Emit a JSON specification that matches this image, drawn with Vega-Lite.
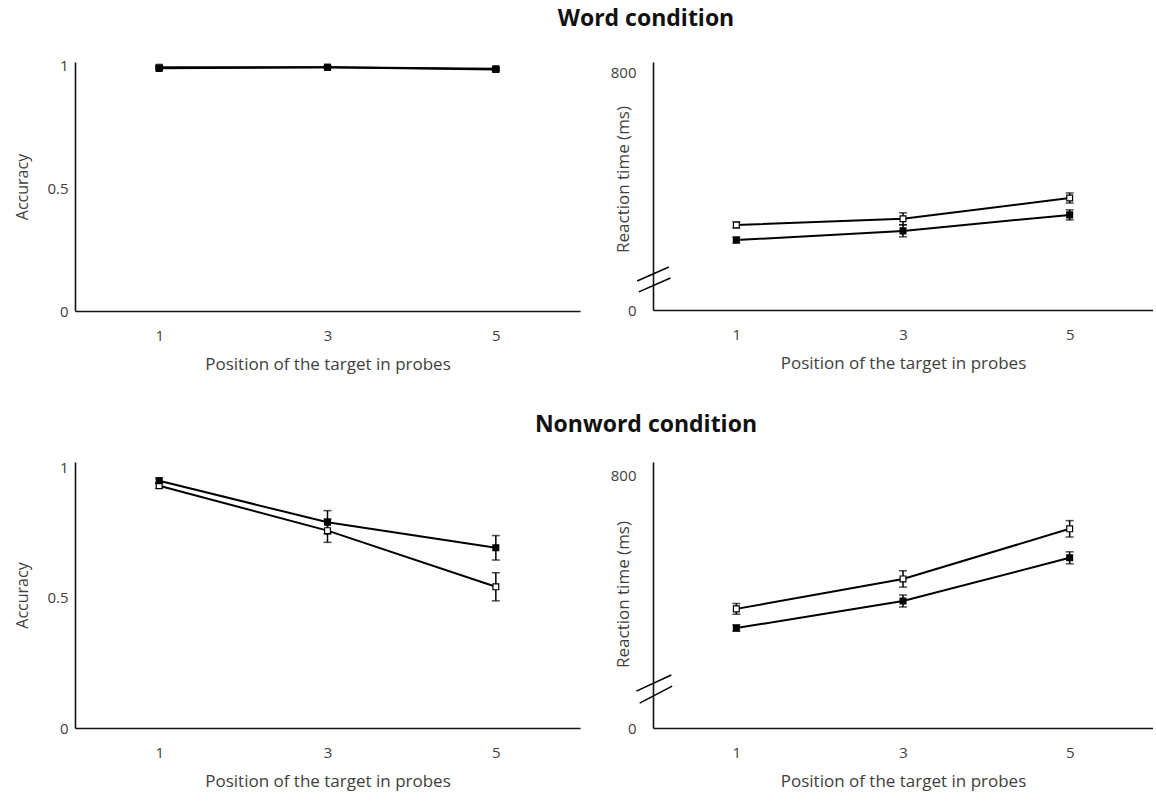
{
  "$schema": "https://vega.github.io/schema/vega-lite/v6.json",
  "padding": {"left": 14, "top": 7, "right": 0, "bottom": 8},
  "background": "white",
  "datasets": {
    "main": [
      {"panel": "word_acc", "pos": 1, "group": "A", "mean": 0.995, "lo": 0.99, "hi": 1.0},
      {"panel": "word_acc", "pos": 3, "group": "A", "mean": 0.995, "lo": 0.991, "hi": 0.999},
      {"panel": "word_acc", "pos": 5, "group": "A", "mean": 0.985, "lo": 0.98, "hi": 0.99},
      {"panel": "word_acc", "pos": 1, "group": "B", "mean": 0.99, "lo": 0.985, "hi": 0.995},
      {"panel": "word_acc", "pos": 3, "group": "B", "mean": 0.995, "lo": 0.991, "hi": 0.999},
      {"panel": "word_acc", "pos": 5, "group": "B", "mean": 0.988, "lo": 0.983, "hi": 0.993},
      {"panel": "word_rt", "pos": 1, "group": "A", "mean": 287, "lo": 277, "hi": 297},
      {"panel": "word_rt", "pos": 3, "group": "A", "mean": 308, "lo": 288, "hi": 328},
      {"panel": "word_rt", "pos": 5, "group": "A", "mean": 378, "lo": 361, "hi": 395},
      {"panel": "word_rt", "pos": 1, "group": "B", "mean": 236, "lo": 226, "hi": 246},
      {"panel": "word_rt", "pos": 3, "group": "B", "mean": 267, "lo": 247, "hi": 287},
      {"panel": "word_rt", "pos": 5, "group": "B", "mean": 321, "lo": 304, "hi": 338},
      {"panel": "nonword_acc", "pos": 1, "group": "A", "mean": 0.932, "lo": 0.922, "hi": 0.942},
      {"panel": "nonword_acc", "pos": 3, "group": "A", "mean": 0.759, "lo": 0.714, "hi": 0.804},
      {"panel": "nonword_acc", "pos": 5, "group": "A", "mean": 0.543, "lo": 0.489, "hi": 0.597},
      {"panel": "nonword_acc", "pos": 1, "group": "B", "mean": 0.951, "lo": 0.941, "hi": 0.961},
      {"panel": "nonword_acc", "pos": 3, "group": "B", "mean": 0.791, "lo": 0.746, "hi": 0.836},
      {"panel": "nonword_acc", "pos": 5, "group": "B", "mean": 0.693, "lo": 0.646, "hi": 0.74},
      {"panel": "nonword_rt", "pos": 1, "group": "A", "mean": 378, "lo": 361, "hi": 395},
      {"panel": "nonword_rt", "pos": 3, "group": "A", "mean": 473, "lo": 447, "hi": 499},
      {"panel": "nonword_rt", "pos": 5, "group": "A", "mean": 632, "lo": 606, "hi": 658},
      {"panel": "nonword_rt", "pos": 1, "group": "B", "mean": 317, "lo": 307, "hi": 327},
      {"panel": "nonword_rt", "pos": 3, "group": "B", "mean": 403, "lo": 384, "hi": 422},
      {"panel": "nonword_rt", "pos": 5, "group": "B", "mean": 540, "lo": 521, "hi": 559}
    ],
    "breaks": [
      {"panel": "word_rt", "bx": -0.19, "by": 98, "bx2": 0.19, "by2": 145},
      {"panel": "word_rt", "bx": -0.17, "by": 61, "bx2": 0.21, "by2": 108},
      {"panel": "nonword_rt", "bx": -0.2, "by": 117, "bx2": 0.22, "by2": 168},
      {"panel": "nonword_rt", "bx": -0.16, "by": 79, "bx2": 0.23, "by2": 133}
    ]
  },
  "vconcat": [
    {
      "title": {"text": "Word condition", "dx": 62},
      "spacing": 30,
      "hconcat": [
        {
          "width": 505, "height": 249,
          "data": {"name": "main"},
          "transform": [{"filter": "datum.panel === 'word_acc'"}],
          "encoding": {
            "x": {"field": "pos", "type": "quantitative", "scale": {"domain": [0, 6], "nice": false, "zero": false},
                  "axis": {"values": [1, 3, 5], "title": "Position of the target in probes"}}
          },
          "layer": [
            {"mark": {"type": "line", "color": "black", "strokeWidth": 2},
             "encoding": {"y": {"field": "mean", "type": "quantitative", "scale": {"domain": [0, 1.016], "nice": false},
                                "title": "Accuracy", "axis": {"values": [0, 0.5, 1], "format": "~g", "labelPadding": 7, "titlePadding": 16, "titleFontSize": 16}},
                          "detail": {"field": "group"}}},
            {"mark": {"type": "rule", "color": "black", "strokeWidth": 1.5},
             "encoding": {"y": {"field": "lo", "type": "quantitative", "title": "Accuracy"}, "y2": {"field": "hi"}}},
            {"mark": {"type": "tick", "orient": "horizontal", "color": "black", "size": 8, "thickness": 1.5},
             "encoding": {"y": {"field": "lo", "type": "quantitative", "title": "Accuracy"}}},
            {"mark": {"type": "tick", "orient": "horizontal", "color": "black", "size": 8, "thickness": 1.5},
             "encoding": {"y": {"field": "hi", "type": "quantitative", "title": "Accuracy"}}},
            {"mark": {"type": "point", "shape": "square", "filled": true, "size": 34, "stroke": "black", "strokeWidth": 1.2, "opacity": 1},
             "encoding": {"y": {"field": "mean", "type": "quantitative", "title": "Accuracy"},
                          "fill": {"field": "group", "type": "nominal", "scale": {"domain": ["A", "B"], "range": ["white", "black"]}, "legend": null}}}
          ]
        },
        {
          "width": 500, "height": 248,
          "data": {"name": "main"},
          "transform": [{"filter": "datum.panel === 'word_rt'"}],
          "encoding": {
            "x": {"field": "pos", "type": "quantitative", "scale": {"domain": [0, 6], "nice": false, "zero": false},
                  "axis": {"values": [1, 3, 5], "title": "Position of the target in probes"}}
          },
          "layer": [
            {"mark": {"type": "line", "color": "black", "strokeWidth": 2},
             "encoding": {"y": {"field": "mean", "type": "quantitative", "scale": {"domain": [0, 837], "nice": false},
                                "title": "Reaction time (ms)", "axis": {"values": [0, 800], "format": "d", "labelPadding": 17, "titleX": -21, "titleY": 117, "titleAngle": 270, "titleAlign": "center", "titleBaseline": "bottom"}},
                          "detail": {"field": "group"}}},
            {"data": {"name": "breaks"},
             "transform": [{"filter": "datum.panel === 'word_rt'"}],
             "mark": {"type": "rule", "color": "black", "strokeWidth": 1.5},
             "encoding": {"x": {"field": "bx", "type": "quantitative"}, "x2": {"field": "bx2"},
                          "y": {"field": "by", "type": "quantitative", "title": "Reaction time (ms)"}, "y2": {"field": "by2"}}},
            {"mark": {"type": "rule", "color": "black", "strokeWidth": 1.5},
             "encoding": {"y": {"field": "lo", "type": "quantitative", "title": "Reaction time (ms)"}, "y2": {"field": "hi"}}},
            {"mark": {"type": "tick", "orient": "horizontal", "color": "black", "size": 8, "thickness": 1.5},
             "encoding": {"y": {"field": "lo", "type": "quantitative", "title": "Reaction time (ms)"}}},
            {"mark": {"type": "tick", "orient": "horizontal", "color": "black", "size": 8, "thickness": 1.5},
             "encoding": {"y": {"field": "hi", "type": "quantitative", "title": "Reaction time (ms)"}}},
            {"mark": {"type": "point", "shape": "square", "filled": true, "size": 34, "stroke": "black", "strokeWidth": 1.2, "opacity": 1},
             "encoding": {"y": {"field": "mean", "type": "quantitative", "title": "Reaction time (ms)"},
                          "fill": {"field": "group", "type": "nominal", "scale": {"domain": ["A", "B"], "range": ["white", "black"]}, "legend": null}}}
          ]
        }
      ]
    },
    {
      "title": {"text": "Nonword condition", "dx": 62, "offset": 24},
      "spacing": 30,
      "hconcat": [
        {
          "width": 505, "height": 266,
          "data": {"name": "main"},
          "transform": [{"filter": "datum.panel === 'nonword_acc'"}],
          "encoding": {
            "x": {"field": "pos", "type": "quantitative", "scale": {"domain": [0, 6], "nice": false, "zero": false},
                  "axis": {"values": [1, 3, 5], "title": "Position of the target in probes"}}
          },
          "layer": [
            {"mark": {"type": "line", "color": "black", "strokeWidth": 2},
             "encoding": {"y": {"field": "mean", "type": "quantitative", "scale": {"domain": [0, 1.023], "nice": false},
                                "title": "Accuracy", "axis": {"values": [0, 0.5, 1], "format": "~g", "labelPadding": 7, "titlePadding": 16, "titleFontSize": 16}},
                          "detail": {"field": "group"}}},
            {"mark": {"type": "rule", "color": "black", "strokeWidth": 1.5},
             "encoding": {"y": {"field": "lo", "type": "quantitative", "title": "Accuracy"}, "y2": {"field": "hi"}}},
            {"mark": {"type": "tick", "orient": "horizontal", "color": "black", "size": 8, "thickness": 1.5},
             "encoding": {"y": {"field": "lo", "type": "quantitative", "title": "Accuracy"}}},
            {"mark": {"type": "tick", "orient": "horizontal", "color": "black", "size": 8, "thickness": 1.5},
             "encoding": {"y": {"field": "hi", "type": "quantitative", "title": "Accuracy"}}},
            {"mark": {"type": "point", "shape": "square", "filled": true, "size": 34, "stroke": "black", "strokeWidth": 1.2, "opacity": 1},
             "encoding": {"y": {"field": "mean", "type": "quantitative", "title": "Accuracy"},
                          "fill": {"field": "group", "type": "nominal", "scale": {"domain": ["A", "B"], "range": ["white", "black"]}, "legend": null}}}
          ]
        },
        {
          "width": 500, "height": 266,
          "data": {"name": "main"},
          "transform": [{"filter": "datum.panel === 'nonword_rt'"}],
          "encoding": {
            "x": {"field": "pos", "type": "quantitative", "scale": {"domain": [0, 6], "nice": false, "zero": false},
                  "axis": {"values": [1, 3, 5], "title": "Position of the target in probes"}}
          },
          "layer": [
            {"mark": {"type": "line", "color": "black", "strokeWidth": 2},
             "encoding": {"y": {"field": "mean", "type": "quantitative", "scale": {"domain": [0, 844], "nice": false},
                                "title": "Reaction time (ms)", "axis": {"values": [0, 800], "format": "d", "labelPadding": 17, "titleX": -21, "titleY": 132, "titleAngle": 270, "titleAlign": "center", "titleBaseline": "bottom"}},
                          "detail": {"field": "group"}}},
            {"data": {"name": "breaks"},
             "transform": [{"filter": "datum.panel === 'nonword_rt'"}],
             "mark": {"type": "rule", "color": "black", "strokeWidth": 1.5},
             "encoding": {"x": {"field": "bx", "type": "quantitative"}, "x2": {"field": "bx2"},
                          "y": {"field": "by", "type": "quantitative", "title": "Reaction time (ms)"}, "y2": {"field": "by2"}}},
            {"mark": {"type": "rule", "color": "black", "strokeWidth": 1.5},
             "encoding": {"y": {"field": "lo", "type": "quantitative", "title": "Reaction time (ms)"}, "y2": {"field": "hi"}}},
            {"mark": {"type": "tick", "orient": "horizontal", "color": "black", "size": 8, "thickness": 1.5},
             "encoding": {"y": {"field": "lo", "type": "quantitative", "title": "Reaction time (ms)"}}},
            {"mark": {"type": "tick", "orient": "horizontal", "color": "black", "size": 8, "thickness": 1.5},
             "encoding": {"y": {"field": "hi", "type": "quantitative", "title": "Reaction time (ms)"}}},
            {"mark": {"type": "point", "shape": "square", "filled": true, "size": 34, "stroke": "black", "strokeWidth": 1.2, "opacity": 1},
             "encoding": {"y": {"field": "mean", "type": "quantitative", "title": "Reaction time (ms)"},
                          "fill": {"field": "group", "type": "nominal", "scale": {"domain": ["A", "B"], "range": ["white", "black"]}, "legend": null}}}
          ]
        }
      ]
    }
  ],
  "spacing": 41,
  "config": {
    "view": {"stroke": null},
    "font": "Open Sans",
    "axis": {"grid": false, "ticks": false, "domainColor": "#111", "domainWidth": 1.6,
             "labelFont": "Open Sans", "labelFontSize": 15, "labelColor": "#404040",
             "titleFont": "Open Sans", "titleFontSize": 17, "titleColor": "#404040", "titleFontWeight": "normal"},
    "axisX": {"labelPadding": 17, "titlePadding": 13},
    "title": {"font": "Open Sans", "fontSize": 23, "fontWeight": "bold", "color": "#111", "anchor": "middle", "offset": 28}
  }
}
